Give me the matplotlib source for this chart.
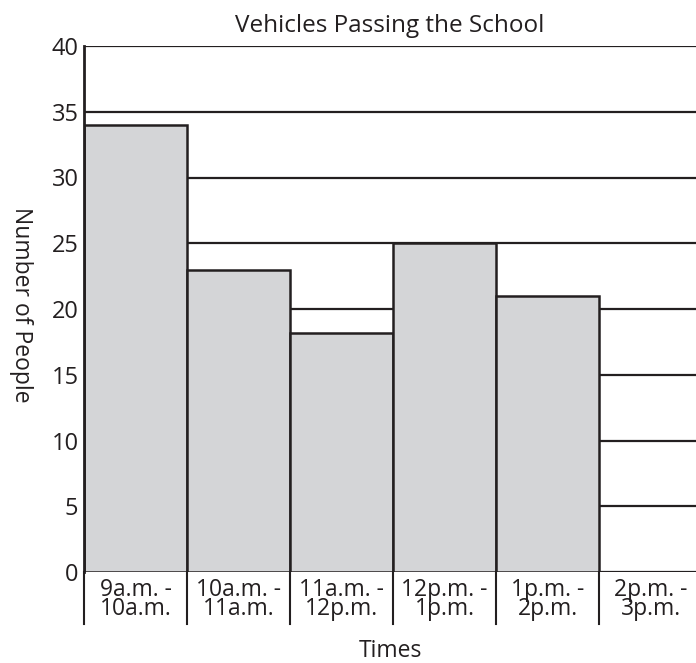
import numpy as np
import matplotlib
matplotlib.use("Agg")
import matplotlib.pyplot as plt
import matplotlib.transforms as mtransforms

plt.rcParams['font.family'] = ['Open Sans', 'DejaVu Sans']

# data
times = ["9a.m. -\n10a.m.", "10a.m. -\n11a.m.", "11a.m. -\n12p.m.",
         "12p.m. -\n1p.m.", "1p.m. -\n2p.m.", "2p.m. -\n3p.m."]
vehicles = [34, 23, 18.2, 25, 21, 0]
y_ticks = [0, 5, 10, 15, 20, 25, 30, 35, 40]

ink = "#231f20"
fill = "#d4d5d7"

fig = plt.figure(figsize=(6.96, 6.63), dpi=100)
ax = fig.add_axes([84 / 696, 91 / 663, 1 - 84 / 696, 526 / 663])

x = np.arange(len(times))

# horizontal rules behind the bars
for v in y_ticks:
    ax.axhline(v, color=ink, lw=1.6, zorder=1)

ax.bar(x, vehicles, width=1.0, color=fill, edgecolor=ink, linewidth=1.8, zorder=2)

ax.set_xlim(-0.5, 5.44)
ax.set_ylim(0, 40)
ax.set_yticks(y_ticks)
ax.tick_params(axis='y', length=0, labelsize=17, pad=4, labelcolor=ink)
ax.set_xticks([])

for side in ['top', 'right', 'bottom']:
    ax.spines[side].set_visible(False)
ax.spines['left'].set_linewidth(2.0)
ax.spines['left'].set_color(ink)

# category labels in boxes under the axis
trans = mtransforms.blended_transform_factory(ax.transData, ax.transAxes)
for xi, lab in zip(x, times):
    ax.text(xi, -0.012, lab, transform=trans, ha='center', va='top',
            fontsize=16.5, color=ink, linespacing=0.72)
for edge in np.arange(len(times) + 1) - 0.5:
    if edge <= 5.44:
        ax.plot([edge, edge], [0, -0.099], transform=trans, color=ink,
                lw=1.5, clip_on=False, zorder=3)

ax.set_title("Vehicles Passing the School", fontsize=17.5, color=ink, pad=10)
fig.text(390 / 696, 1 - 651 / 663, "Times", ha='center', va='center',
         fontsize=16.5, color=ink)
fig.text(21 / 696, 1 - 305 / 663, "Number of People", ha='center', va='center',
         rotation=-90, fontsize=16.5, color=ink)

fig.savefig("out.png", dpi=100)
